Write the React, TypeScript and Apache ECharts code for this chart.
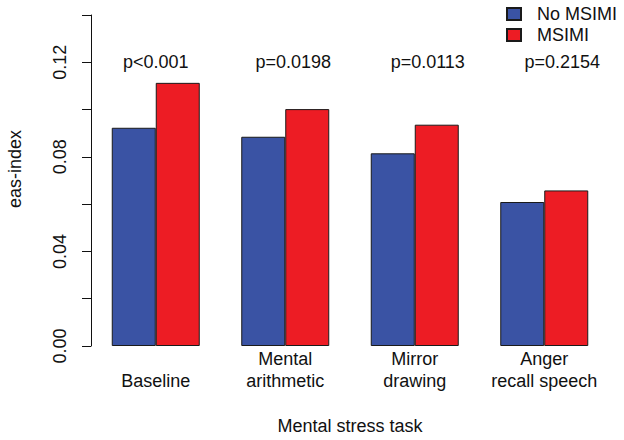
import React, { useEffect, useRef } from "react";
import * as echarts from "echarts";

const categories = ["Baseline", "Mental\narithmetic", "Mirror\ndrawing", "Anger\nrecall speech"];
const noMsimi = [0.0923, 0.0885, 0.0815, 0.0609];
const msimi = [0.1113, 0.1002, 0.0936, 0.0658];
const pLabels = ["p<0.001", "p=0.0198", "p=0.0113", "p=0.2154"];
const pLabelY = 0.12;
const seriesNames = ["No MSIMI", "MSIMI"];
const yTicks = { min: 0, max: 0.14, interval: 0.02 };

const FONT = "'Liberation Sans', Arial, Helvetica, sans-serif";
const pOffsets = [0, 8, 13, 18];

export default function App() {
  const ref = useRef<HTMLDivElement>(null);
  useEffect(() => {
    if (!ref.current) return;
    const chart = echarts.init(ref.current, undefined, { renderer: "svg" });
    chart.setOption({
      animation: false,
      backgroundColor: "#ffffff",
      textStyle: { fontFamily: FONT },
      grid: { left: 91, top: 15, width: 518, height: 332, containLabel: false },
      legend: {
        data: seriesNames,
        orient: "vertical",
        left: 506,
        top: 5,
        padding: 0,
        itemWidth: 14,
        itemHeight: 12,
        itemGap: 3,
        icon: "rect",
        textStyle: { fontSize: 18, color: "#111", fontFamily: FONT, lineHeight: 18, padding: [0, 0, 0, 11] },
      },
      xAxis: {
        type: "category",
        data: categories,
        axisLine: { show: false },
        axisTick: { show: false },
        axisLabel: {
          fontSize: 18,
          color: "#111",
          fontFamily: FONT,
          lineHeight: 22,
          verticalAlign: "bottom",
          margin: 46,
          interval: 0,
        },
        name: "Mental stress task",
        nameLocation: "middle",
        nameGap: 71,
        nameTextStyle: { fontSize: 18, color: "#111", fontFamily: FONT, verticalAlign: "top" },
      },
      yAxis: {
        type: "value",
        min: yTicks.min,
        max: yTicks.max,
        interval: yTicks.interval,
        axisLine: { show: true, lineStyle: { color: "#111", width: 1 } },
        axisTick: { show: true, length: 9, lineStyle: { color: "#111", width: 1 } },
        splitLine: { show: false },
        axisLabel: {
          rotate: 90,
          fontSize: 18,
          color: "#111",
          fontFamily: FONT,
          margin: 22,
          showMaxLabel: true,
          formatter: (v: number) => (Math.round(v / yTicks.interval) % 2 === 0 ? v.toFixed(2) : ""),
        },
      },
      graphic: [
        {
          type: "text",
          x: 15,
          y: 169,
          rotation: Math.PI / 2,
          style: {
            text: "eas-index",
            fontSize: 18,
            fontFamily: FONT,
            fill: "#111",
            align: "center",
            verticalAlign: "middle",
          },
        },
      ],
      series: [
        {
          name: seriesNames[0],
          type: "bar",
          data: noMsimi,
          barWidth: 44,
          barGap: "0%",
          itemStyle: { color: "#3A53A4", borderColor: "#1a1a1a", borderWidth: 1 },
        },
        {
          name: seriesNames[1],
          type: "bar",
          data: msimi,
          barWidth: 44,
          barGap: "0%",
          itemStyle: { color: "#ED1C24", borderColor: "#1a1a1a", borderWidth: 1 },
        },
        {
          name: "p",
          type: "scatter",
          symbolSize: 0,
          silent: true,
          itemStyle: { opacity: 1 },
          data: pLabels.map((p, i) => ({
            value: [i, pLabelY],
            label: { offset: [pOffsets[i], 0] },
          })),
          label: {
            show: true,
            position: "inside",
            fontSize: 18,
            color: "#111",
            opacity: 1,
            fontFamily: FONT,
            formatter: (params: any) => pLabels[params.dataIndex],
          },
        },
      ],
    });
    return () => chart.dispose();
  }, []);
  return (
    <div
      ref={ref}
      style={{ position: "fixed", left: 0, top: 0, width: 624, height: 440 }}
    />
  );
}
